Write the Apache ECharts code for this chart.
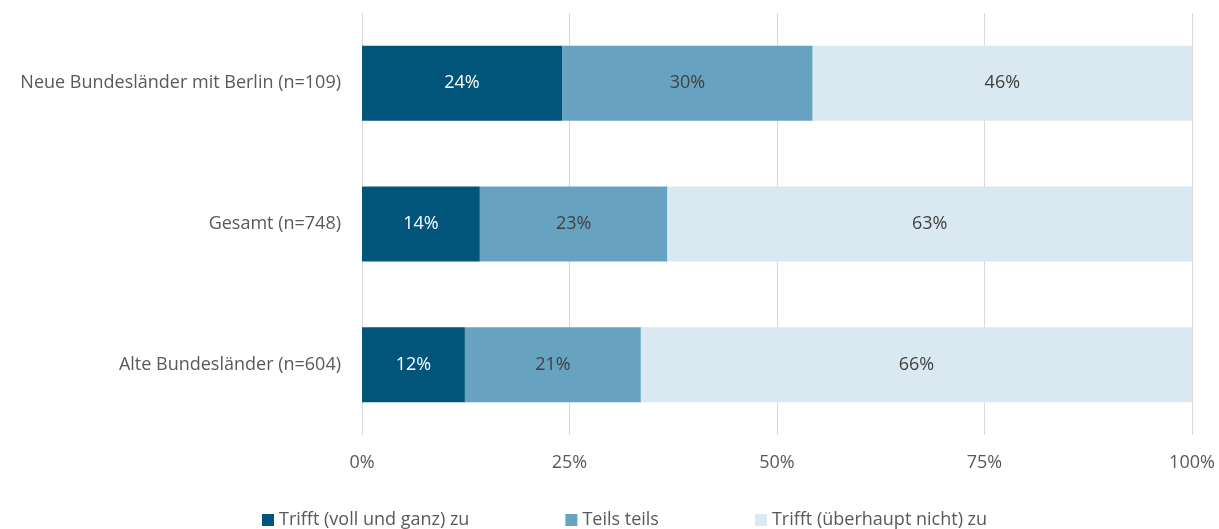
<!DOCTYPE html>
<html>
<head>
<meta charset="utf-8">
<script src="https://cdn.jsdelivr.net/npm/echarts@6/dist/echarts.min.js"></script>
<style>
  html, body { margin: 0; padding: 0; background: #ffffff; }
  #chart { width: 1219px; height: 529px; }
</style>
</head>
<body>
<div id="chart"></div>
<script>
// Kategorien (von oben nach unten)
const categories = ['Neue Bundesländer mit Berlin (n=109)', 'Gesamt (n=748)', 'Alte Bundesländer (n=604)'];
// Anteile in Prozent je Antwortkategorie
const vollUndGanz = [24.1, 14.2, 12.4];
const teilsTeils = [30.2, 22.6, 21.2];
const ueberhauptNicht = [45.7, 63.2, 66.4];
const seriesNames = ['Trifft (voll und ganz) zu', 'Teils teils', 'Trifft (überhaupt nicht) zu'];
const tickLabels = ['0%', '25%', '50%', '75%', '100%'];

const FONT = 'Open Sans';
const TEXT = '#595959';
const SIZE = 18;

function makeSeries(name, data, color, labelColor) {
  return {
    name: name,
    type: 'bar',
    stack: 'total',
    barWidth: 75,
    data: data,
    itemStyle: { color: color },
    label: {
      show: true,
      position: 'inside',
      color: labelColor,
      fontFamily: FONT,
      fontSize: SIZE,
      formatter: p => Math.round(p.value) + '%'
    },
    emphasis: { disabled: true }
  };
}

const chart = echarts.init(document.getElementById('chart'), null, { renderer: 'canvas' });
chart.setOption({
  animation: false,
  textStyle: { fontFamily: FONT },
  grid: { left: 362, right: 27, top: 13, bottom: 94 },
  legend: {
    top: 506,
    left: 257,
    itemWidth: 12,
    itemHeight: 12,
    itemGap: 96,
    icon: 'rect',
    textStyle: { fontFamily: FONT, fontSize: SIZE, color: TEXT },
    data: seriesNames
  },
  xAxis: {
    type: 'value',
    min: 0,
    max: 100,
    interval: 25,
    axisLine: { show: false },
    axisTick: { show: false },
    splitLine: { lineStyle: { color: '#d9d9d9', width: 1 } },
    axisLabel: {
      fontFamily: FONT,
      fontSize: SIZE,
      color: TEXT,
      margin: 19,
      formatter: v => tickLabels[v / 25]
    }
  },
  yAxis: {
    type: 'category',
    inverse: true,
    data: categories,
    axisLine: { show: false },
    axisTick: { show: false },
    axisLabel: { fontFamily: FONT, fontSize: SIZE, color: TEXT, margin: 21 }
  },
  series: [
    makeSeries(seriesNames[0], vollUndGanz, '#02557a', '#ffffff'),
    makeSeries(seriesNames[1], teilsTeils, '#67a3c1', '#404040'),
    makeSeries(seriesNames[2], ueberhauptNicht, '#dae8f1', '#404040')
  ]
});
</script>
</body>
</html>
